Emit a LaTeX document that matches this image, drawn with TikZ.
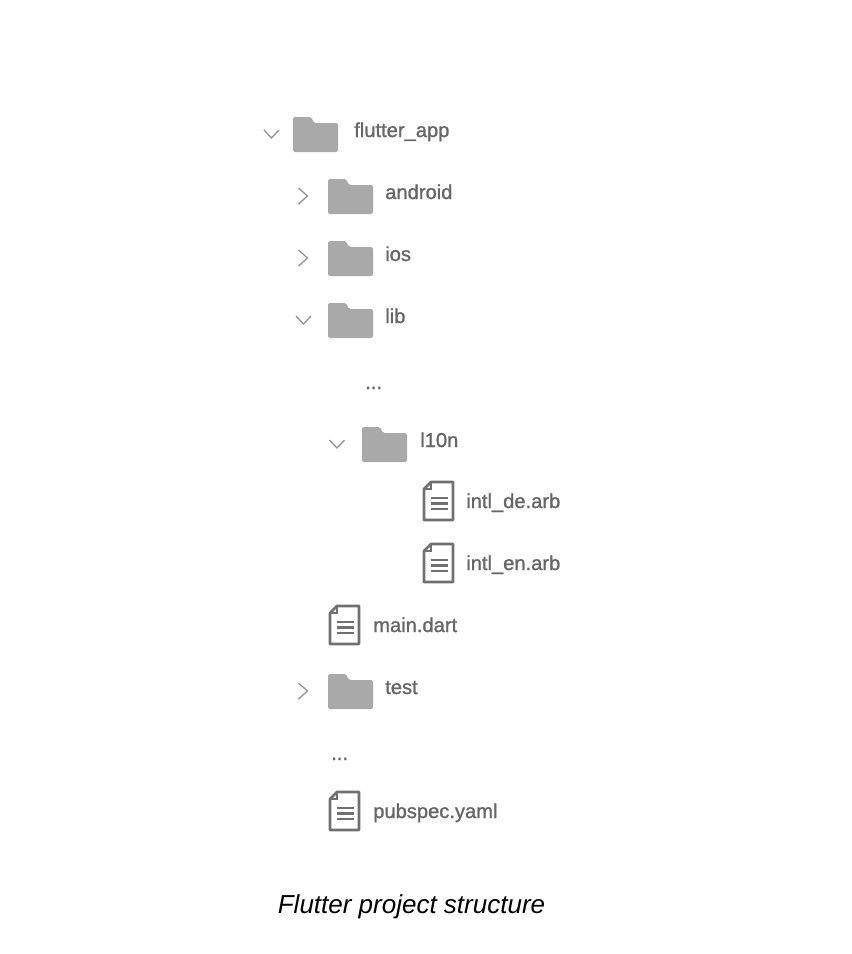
\documentclass[tikz,border=0pt]{standalone}
\usepackage{fontspec}
\setmainfont{Liberation Sans}
\newfontfamily\treefont[FakeBold=1.2]{Liberation Sans}
\usepackage{xcolor}
\usetikzlibrary{positioning,calc}
\definecolor{foldergray}{HTML}{A9A9A9}
\definecolor{labelgray}{HTML}{666666}
\definecolor{filegray}{HTML}{707070}
\definecolor{chevgray}{HTML}{959595}
\tikzset{
  entry/.style={anchor=base west,inner sep=0pt,text=labelgray,font=\treefont\fontsize{15.1}{16}\selectfont},
  chev/.style={draw=chevgray,line width=1pt,line join=miter},
  folderpic/.pic={
    \fill[foldergray,rounded corners=1.2] (0,0) -- (0,35) -- (45,35) -- (45,6) -- (21,6) -- (18,0) -- cycle;
  },
  filepic/.pic={
    \draw[filegray,line width=2pt,line join=round] (0,7) -- (7,0) -- (29,0) -- (29,38) -- (0,38) -- cycle;
    \draw[filegray,line width=1.1pt] (0,7) -- (7,7) -- (7,0);
    \foreach \l in {16,21.5,27}{ \draw[filegray,line width=1.6pt] (6.5,\l) -- (23.5,\l); }
  },
  openpic/.pic={ \draw[chev] (-7.5,-4) -- (0,4) -- (7.5,-4); },
  closedpic/.pic={ \draw[chev] (-4.5,-8) -- (4.5,0) -- (-4.5,8); }
}
\begin{document}
\begin{tikzpicture}[x=0.75pt,y=-0.75pt]
  \useasboundingbox (0,0) rectangle (852,954);
  % folders: x, top y, chevron kind, chevron x, label x, name, text
  \foreach \x/\y/\k/\cx/\tx/\n/\t in {
    293/117/openpic/271.5/354/flutterapp/flutter\_app,
    328/179/closedpic/303/385/android/android,
    328/241/closedpic/303/385/ios/ios,
    328/303/openpic/303.5/385/lib/lib,
    362/427/openpic/337/420/ltenn/l10n,
    328/674/closedpic/303/385/test/test}{
    \pic at (\x,\y) {folderpic};
    \pic at (\cx,\y+17) {\k};
    \node[entry] (\n) at (\tx,\y+20) {\t};
  }
  % files
  \foreach \x/\y/\tx/\n/\t in {
    424/482/466/intlde/intl\_de.arb,
    424/544/466/intlen/intl\_en.arb,
    330/606/373/maindart/main.dart,
    330/792/373/pubspec/pubspec.yaml}{
    \pic at (\x,\y) {filepic};
    \node[entry] (\n) at (\tx,\y+26) {\t};
  }
  \node[entry] (dotsa) at (365,389) {...};
  \node[entry] (dotsb) at (331,760) {...};
  \node[anchor=base,inner sep=0pt,font=\itshape\fontsize{19.5}{22}\selectfont] (caption) at (411.5,913) {Flutter project structure};
\end{tikzpicture}
\end{document}
